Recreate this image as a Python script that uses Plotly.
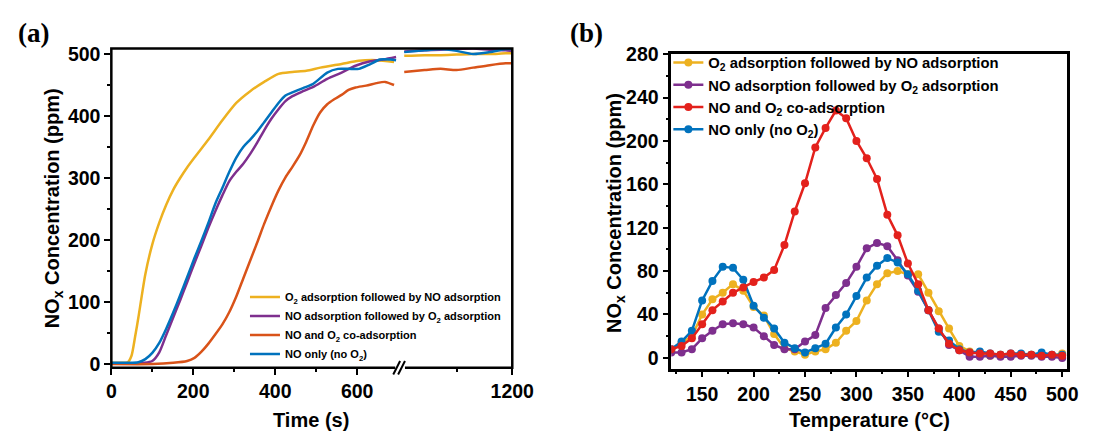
import plotly.graph_objects as go

W, H = 1103, 440

# ---------------- Panel (a): NOx breakthrough vs time ----------------
t_yellow = [0, 20, 40, 49, 58, 66, 83, 100, 117, 134, 151, 168, 185, 203, 237, 271, 305, 339, 373, 408, 442, 476, 510, 562, 604, 647, 690]
c_yellow = [2, 2, 3, 13, 44, 75, 145, 193, 228, 257, 281, 300, 317, 333, 362, 393, 421, 440, 455, 468, 471, 473, 478, 484, 489, 490, 487]

t_purple = [0, 40, 80, 100, 117, 134, 151, 168, 185, 203, 220, 237, 254, 271, 288, 305, 322, 339, 356, 373, 391, 408, 425, 442, 468, 493, 527, 562, 596, 630, 664, 695]
c_purple = [1, 1, 2, 5, 19, 47, 75, 103, 132, 163, 191, 220, 247, 272, 295, 310, 323, 339, 357, 377, 396, 411, 424, 432, 440, 447, 460, 470, 481, 488, 491, 495]

t_red = [0, 100, 151, 185, 203, 220, 237, 254, 271, 288, 305, 322, 339, 356, 373, 391, 408, 425, 442, 459, 476, 493, 510, 527, 544, 562, 579, 596, 622, 647, 668, 690]
c_red = [0, 0, 2, 5, 10, 20, 33, 48, 64, 84, 109, 138, 167, 196, 226, 255, 280, 301, 318, 336, 359, 385, 406, 419, 427, 434, 442, 446, 449, 453, 455, 450]

t_blue = [0, 40, 66, 83, 100, 117, 134, 151, 168, 185, 203, 220, 237, 254, 271, 288, 305, 322, 339, 356, 373, 391, 408, 425, 442, 468, 493, 527, 553, 579, 604, 630, 656, 681, 695]
c_blue = [2, 2, 3, 8, 18, 34, 57, 83, 111, 140, 171, 199, 228, 259, 284, 310, 333, 350, 362, 375, 390, 406, 421, 433, 438, 445, 452, 470, 476, 476, 476, 483, 491, 491, 490]

# values after the axis break (1000-1200 s)
t_late = [1004, 1041, 1070, 1099, 1129, 1159, 1188, 1200]
c_yellow_late = [497, 498, 498, 499, 500, 500, 501, 501]
c_purple_late = [504, 506, 507, 508, 509, 507, 506, 505]
c_red_late = [471, 474, 476, 474, 478, 482, 485, 485]
c_blue_late = [503, 506, 508, 505, 500, 503, 508, 508]

# ---------------- Panel (b): NOx release vs temperature ----------------
temp = list(range(120, 501, 10))
b_yellow = [7, 14, 20, 40, 54, 60, 68, 62, 47, 39, 22, 9, 6, 3, 6, 8, 14, 25, 34, 53,
            68, 78, 80, 77, 77, 60, 43, 27, 11, 6, 4, 2, 3, 3, 3, 3, 3, 2, 4]
b_purple = [5, 5, 8, 18, 25, 31, 32, 31, 28, 20, 12, 8, 8, 15, 21, 46, 58, 69, 84, 101,
            106, 103, 90, 76, 61, 44, 27, 12, 7, 1, 1, 2, 1, 1, 2, 2, 1, 1, 0]
b_red = [8, 11, 18, 31, 44, 52, 60, 65, 70, 74, 81, 104, 135, 161, 194, 212, 228, 221, 200, 184,
         165, 132, 113, 87, 68, 44, 27, 13, 7, 5, 4, 4, 3, 4, 3, 3, 2, 3, 2]
b_blue = [8, 15, 25, 53, 71, 84, 83, 72, 48, 37, 27, 14, 9, 5, 9, 13, 28, 40, 57, 74,
          85, 92, 88, 77, 62, 44, 24, 16, 8, 5, 6, 4, 3, 4, 4, 3, 5, 3, 3]

names = [
    "O<sub>2</sub> adsorption followed by NO adsorption",
    "NO adsorption followed by O<sub>2</sub> adsorption",
    "NO and O<sub>2</sub> co-adsorption",
    "NO only (no O<sub>2</sub>)",
]
YELLOW, PURPLE, ORANGE, BLUE, RED = "#EDB120", "#7E2F8E", "#D95319", "#0072BD", "#E3211C"

fig = go.Figure()

series_a = [
    (t_yellow, c_yellow, c_yellow_late, YELLOW, names[0]),
    (t_purple, c_purple, c_purple_late, PURPLE, names[1]),
    (t_red, c_red, c_red_late, ORANGE, names[2]),
    (t_blue, c_blue, c_blue_late, BLUE, names[3]),
]
for tt, cc, cl, col, nm in series_a:
    fig.add_trace(go.Scatter(x=tt, y=cc, mode="lines", name=nm, legend="legend",
                             line=dict(color=col, width=2.5, shape="spline", smoothing=0.7),
                             xaxis="x", yaxis="y"))
    fig.add_trace(go.Scatter(x=t_late, y=cl, mode="lines", showlegend=False,
                             line=dict(color=col, width=2.5, shape="spline", smoothing=0.7),
                             xaxis="x2", yaxis="y"))

series_b = [
    (b_yellow, YELLOW, names[0], 1),
    (b_purple, PURPLE, names[1], 2),
    (b_blue, BLUE, names[3], 4),
    (b_red, RED, names[2], 3),
]
for vals, col, nm, rank in series_b:
    fig.add_trace(go.Scatter(x=temp, y=vals, mode="lines+markers", name=nm, legend="legend2",
                             legendrank=rank,
                             line=dict(color=col, width=2.5),
                             marker=dict(color=col, size=8),
                             xaxis="x3", yaxis="y2"))

TICKFONT = dict(family="Liberation Sans, Arial", size=19.5, color="black", weight="bold")
TITLEFONT = dict(family="Liberation Sans, Arial", size=20, color="black", weight="bold")


def px(x):
    return x / W


def py(y):
    return 1 - y / H


common = dict(showgrid=False, zeroline=False, ticks="outside", ticklen=6, tickwidth=2,
              tickcolor="black", tickfont=TICKFONT)
minor_style = dict(ticks="outside", ticklen=3, tickwidth=2, tickcolor="black")

fig.update_layout(
    width=W, height=H, autosize=False,
    margin=dict(l=0, r=0, t=0, b=0),
    paper_bgcolor="white", plot_bgcolor="white",
    xaxis=dict(domain=[px(109), px(403)], range=[0, 700], anchor="y",
               tickvals=[0, 200, 400, 600], showline=False,
               minor=dict(tickvals=[100, 300, 500], **minor_style), **common),
    xaxis2=dict(domain=[px(407), px(520)], range=[1000, 1200], anchor="y",
                tickvals=[1200], showline=False,
                minor=dict(tickvals=[1100], **minor_style), **common),
    yaxis=dict(domain=[py(372), py(39)], range=[-6, 509], anchor="x",
               tickvals=[0, 100, 200, 300, 400, 500], showline=False,
               minor=dict(tickvals=[50, 150, 250, 350, 450], **minor_style), **common),
    xaxis3=dict(domain=[px(683), px(1089)], range=[120, 505], anchor="y2",
                tickvals=[150, 200, 250, 300, 350, 400, 450, 500],
                showline=True, mirror=True, linewidth=2.5, linecolor="black",
                minor=dict(tickvals=[125, 175, 225, 275, 325, 375, 425, 475], **minor_style),
                **common),
    yaxis2=dict(domain=[py(373), py(45)], range=[-10, 280], anchor="x3",
                tickvals=[0, 40, 80, 120, 160, 200, 240, 280],
                showline=True, mirror=True, linewidth=2.5, linecolor="black",
                minor=dict(tickvals=[20, 60, 100, 140, 180, 220, 260], **minor_style),
                **common),
    legend=dict(x=px(246), y=py(283), xanchor="left", yanchor="top",
                bgcolor="rgba(0,0,0,0)", borderwidth=0, tracegroupgap=0,
                font=dict(family="Liberation Sans, Arial", size=11, color="black", weight="bold")),
    legend2=dict(x=px(680), y=py(37), xanchor="left", yanchor="top",
                 bgcolor="rgba(0,0,0,0)", borderwidth=0, tracegroupgap=0,
                 font=dict(family="Liberation Sans, Arial", size=14.8, color="black", weight="bold")),
    showlegend=True,
)

# frame of panel (a) with the break marks on the time axis
fig.add_shape(type="rect", xref="paper", yref="paper", x0=px(109), x1=px(520), y0=py(372), y1=py(39),
              line=dict(color="black", width=2.5), layer="above")
fig.add_shape(type="rect", xref="paper", yref="paper", x0=px(400), x1=px(410), y0=py(376), y1=py(368),
              line=dict(width=0), fillcolor="white", layer="above")
for dx in (0, 5):
    fig.add_shape(type="line", xref="paper", yref="paper",
                  x0=px(398 + dx), y0=py(379), x1=px(405 + dx), y1=py(365),
                  line=dict(color="black", width=2), layer="above")

annotations = [
    dict(text="(a)", x=px(11), y=py(23), xanchor="left", yanchor="middle",
         font=dict(family="Liberation Serif, Times New Roman", size=27, color="black", weight="bold")),
    dict(text="(b)", x=px(577), y=py(23), xanchor="left", yanchor="middle",
         font=dict(family="Liberation Serif, Times New Roman", size=27, color="black", weight="bold")),
    dict(text="Time (s)", x=px(314), y=py(426), xanchor="center", yanchor="middle", font=TITLEFONT),
    dict(text="Temperature (°C)", x=px(886), y=py(426), xanchor="center", yanchor="middle", font=TITLEFONT),
    dict(text="NO<sub>x</sub> Concentration (ppm)", x=px(50), y=py(206), textangle=-90,
         xanchor="center", yanchor="middle", font=TITLEFONT),
    dict(text="NO<sub>x</sub> Concentration (ppm)", x=px(626), y=py(211), textangle=-90,
         xanchor="center", yanchor="middle", font=TITLEFONT),
]
for a in annotations:
    a.update(xref="paper", yref="paper", showarrow=False)
    fig.add_annotation(**a)

fig.write_html("out.html")
